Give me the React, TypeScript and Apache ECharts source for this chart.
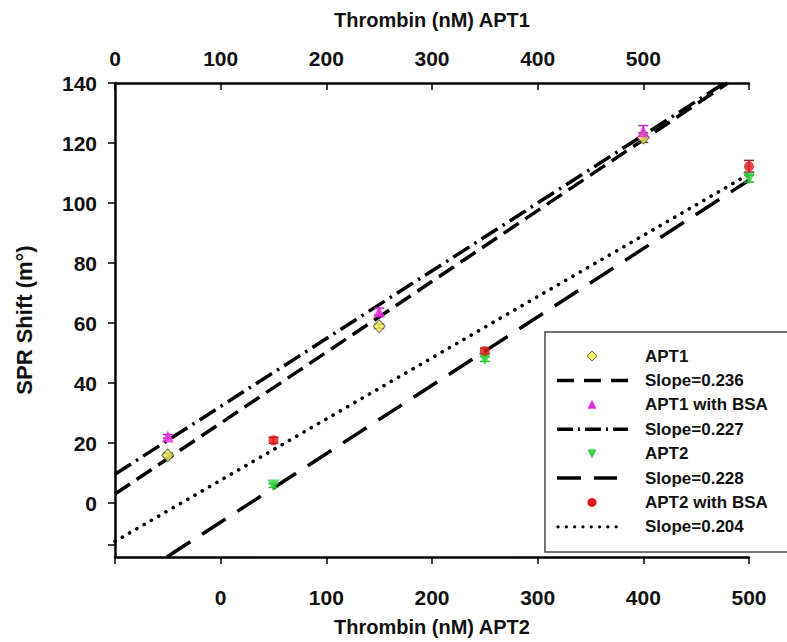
import React, { useEffect, useRef } from "react";
import * as echarts from "echarts";

// ---- data ----
// APT1 series use the top axis (Thrombin (nM) APT1), APT2 series use the bottom axis (APT2)
const apt1: number[][] = [[50, 15.9], [250, 58.9], [500, 121.8]];
const apt1Bsa: number[][] = [[50, 22.2], [250, 63.8], [500, 123.9]];
const apt2: number[][] = [[50, 5.8], [250, 47.9], [500, 108.1]];
const apt2Bsa: number[][] = [[50, 20.9], [250, 50.7], [500, 112.2]];

// error bars: [x, low, high]
const apt1Err: number[][] = [[50, 15.2, 16.6], [250, 58.2, 59.6], [500, 120.2, 123.4]];
const apt1BsaErr: number[][] = [[50, 21.6, 22.8], [250, 62.6, 65.0], [500, 122.0, 125.8]];
const apt2Err: number[][] = [[50, 5.2, 6.4], [250, 47.2, 48.8], [500, 107.0, 109.2]];
const apt2BsaErr: number[][] = [[50, 19.9, 21.9], [250, 49.8, 51.6], [500, 110.3, 114.2]];

// trend-line end points
const fit236: number[][] = [[0, 3.0], [580, 140]];
const fit227: number[][] = [[0, 9.6], [577, 140]];
const fit228: number[][] = [[-51, -18], [500, 107.6]];
const fit204: number[][] = [[-100, -12.8], [500, 109.6]];

const legendLabels: string[] = [
  "APT1",
  "Slope=0.236",
  "APT1 with BSA",
  "Slope=0.227",
  "APT2",
  "Slope=0.228",
  "APT2 with BSA",
  "Slope=0.204",
];

const yTicks: number[] = [0, 20, 40, 60, 80, 100, 120, 140];
const yExtraTick: number[] = [-14];

const FONT = "'Liberation Sans', Arial, Helvetica, sans-serif";

function errSeries(name: string, data: number[][], xAxisIndex: number, color: string) {
  return {
    name,
    type: "custom",
    xAxisIndex,
    yAxisIndex: 0,
    z: 3,
    data,
    renderItem: (params: any, api: any) => {
      const x = api.value(0);
      const lo = api.coord([x, api.value(1)]);
      const hi = api.coord([x, api.value(2)]);
      const w = 5;
      const st = { stroke: color, lineWidth: 1.5 };
      return {
        type: "group",
        children: [
          { type: "line", shape: { x1: lo[0], y1: lo[1], x2: hi[0], y2: hi[1] }, style: st },
          { type: "line", shape: { x1: lo[0] - w, y1: lo[1], x2: lo[0] + w, y2: lo[1] }, style: st },
          { type: "line", shape: { x1: hi[0] - w, y1: hi[1], x2: hi[0] + w, y2: hi[1] }, style: st },
        ],
      };
    },
  };
}

export default function App() {
  const ref = useRef<HTMLDivElement>(null);
  useEffect(() => {
    if (!ref.current) return;
    const chart = echarts.init(ref.current, null, { renderer: "svg" });

    const lineW = 3.5;
    const lx = 545, ly = 332;
    const rowY = (i: number) => 356 + i * 24.4;
    const symX = 592;
    const textX = 645;
    const legendGraphics: any[] = [
      {
        type: "rect",
        shape: { x: lx, y: ly, width: 260, height: 220 },
        style: { fill: "#fff", stroke: "#444", lineWidth: 1.5 },
        z: 10,
      },
      {
        type: "polygon",
        shape: { points: [[symX, rowY(0) - 5], [symX + 5, rowY(0)], [symX, rowY(0) + 5], [symX - 5, rowY(0)]] },
        style: { fill: "#f2ee5a", stroke: "#666", lineWidth: 1 },
        z: 11,
      },
      {
        type: "line",
        shape: { x1: 557, y1: rowY(1), x2: 628, y2: rowY(1) },
        style: { stroke: "#000", lineWidth: lineW, lineDash: [17, 10] },
        z: 11,
      },
      {
        type: "polygon",
        shape: { points: [[symX, rowY(2) - 5], [symX + 4.5, rowY(2) + 4], [symX - 4.5, rowY(2) + 4]] },
        style: { fill: "#e030d8" },
        z: 11,
      },
      {
        type: "line",
        shape: { x1: 557, y1: rowY(3), x2: 628, y2: rowY(3) },
        style: { stroke: "#000", lineWidth: lineW, lineDash: [16, 5, 2, 5] },
        z: 11,
      },
      {
        type: "polygon",
        shape: { points: [[symX, rowY(4) + 5], [symX + 4.5, rowY(4) - 4], [symX - 4.5, rowY(4) - 4]] },
        style: { fill: "#30d040" },
        z: 11,
      },
      {
        type: "line",
        shape: { x1: 557, y1: rowY(5), x2: 617, y2: rowY(5) },
        style: { stroke: "#000", lineWidth: lineW, lineDash: [24, 13] },
        z: 11,
      },
      {
        type: "circle",
        shape: { cx: symX, cy: rowY(6), r: 4.5 },
        style: { fill: "#e01818" },
        z: 11,
      },
      {
        type: "line",
        shape: { x1: 558, y1: rowY(7), x2: 624, y2: rowY(7) },
        style: { stroke: "#000", lineWidth: 3.2, lineDash: [0.1, 8.2], lineCap: "round" },
        z: 11,
      },
      ...legendLabels.map((t, i) => ({
        type: "text",
        x: textX,
        y: rowY(i),
        style: {
          text: t,
          fill: "#111",
          font: `bold 17px ${FONT}`,
          textVerticalAlign: "middle",
          textAlign: "left",
        },
        z: 11,
      })),
    ];

    const axisLineStyle = { color: "#000", width: 2.5 };
    const labelStyle = { color: "#111", fontSize: 21, fontWeight: "bold" as const, fontFamily: FONT };
    const nameStyle = { color: "#111", fontSize: 20, fontWeight: "bold" as const, fontFamily: FONT };

    chart.setOption({
      animation: false,
      backgroundColor: "#fff",
      grid: { left: 115, right: 38, top: 83, bottom: 77, containLabel: false },
      xAxis: [
        {
          type: "value",
          position: "bottom",
          min: -100,
          max: 500,
          interval: 100,
          name: "Thrombin (nM) APT2",
          nameLocation: "middle",
          nameGap: 60,
          nameTextStyle: nameStyle,
          axisLine: { show: true, onZero: false, lineStyle: axisLineStyle },
          axisTick: { show: true, inside: false, length: 7, lineStyle: { color: "#000", width: 1.5 } },
          axisLabel: {
            ...labelStyle,
            margin: 30,
            formatter: (v: number) => (v === -100 ? "" : String(v)),
          },
          splitLine: { show: false },
        },
        {
          type: "value",
          position: "top",
          min: 0,
          max: 600,
          interval: 100,
          name: "Thrombin (nM) APT1",
          nameLocation: "middle",
          nameGap: 53,
          nameTextStyle: nameStyle,
          axisLine: { show: true, onZero: false, lineStyle: axisLineStyle },
          axisTick: { show: true, inside: true, length: 7, lineStyle: { color: "#000", width: 1.5 } },
          axisLabel: {
            ...labelStyle,
            margin: 14,
            formatter: (v: number) => (v === 600 ? "" : String(v)),
          },
          splitLine: { show: false },
        },
      ],
      yAxis: [
        {
          type: "value",
          min: -18,
          max: 140,
          name: "SPR Shift (m°)",
          nameLocation: "middle",
          nameGap: 80,
          nameRotate: 90,
          nameTextStyle: { ...nameStyle, fontSize: 22 },
          axisLine: { show: true, onZero: false, lineStyle: axisLineStyle },
          axisTick: {
            show: true,
            inside: false,
            length: 7,
            lineStyle: { color: "#000", width: 1.5 },
            customValues: [...yExtraTick, ...yTicks],
          },
          axisLabel: { ...labelStyle, margin: 18, customValues: yTicks },
          splitLine: { show: false },
        },
      ],
      graphic: legendGraphics,
      series: [
        {
          name: "Slope=0.236",
          type: "line",
          xAxisIndex: 1,
          data: fit236,
          symbol: "none",
          lineStyle: { color: "#000", width: lineW, type: [18, 8] },
          z: 2,
        },
        {
          name: "Slope=0.227",
          type: "line",
          xAxisIndex: 1,
          data: fit227,
          symbol: "none",
          lineStyle: { color: "#000", width: lineW, type: [19, 6, 2.5, 6] },
          z: 2,
        },
        {
          name: "Slope=0.228",
          type: "line",
          xAxisIndex: 0,
          data: fit228,
          symbol: "none",
          lineStyle: { color: "#000", width: lineW, type: [28, 14] },
          z: 2,
        },
        {
          name: "Slope=0.204",
          type: "line",
          xAxisIndex: 0,
          data: fit204,
          symbol: "none",
          lineStyle: { color: "#000", width: 3.6, type: [0.1, 8.3], cap: "round" },
          z: 2,
        },
        errSeries("APT1 err", apt1Err, 1, "#5a4a20"),
        errSeries("APT1 BSA err", apt1BsaErr, 1, "#c020c0"),
        errSeries("APT2 err", apt2Err, 0, "#30b030"),
        errSeries("APT2 BSA err", apt2BsaErr, 0, "#a02020"),
        {
          name: "APT1",
          type: "scatter",
          xAxisIndex: 1,
          data: apt1,
          symbol: "diamond",
          symbolSize: [12, 13],
          itemStyle: { color: "#f2ee5a", borderColor: "#555", borderWidth: 1 },
          z: 4,
        },
        {
          name: "APT1 with BSA",
          type: "scatter",
          xAxisIndex: 1,
          data: apt1Bsa,
          symbol: "triangle",
          symbolSize: 12,
          itemStyle: { color: "#e030d8" },
          z: 5,
        },
        {
          name: "APT2",
          type: "scatter",
          xAxisIndex: 0,
          data: apt2,
          symbol: "triangle",
          symbolRotate: 180,
          symbolSize: 12,
          itemStyle: { color: "#30d040" },
          z: 4,
        },
        {
          name: "APT2 with BSA",
          type: "scatter",
          xAxisIndex: 0,
          data: apt2Bsa,
          symbol: "circle",
          symbolSize: 10,
          itemStyle: { color: "#e01818" },
          z: 5,
        },
      ],
    });
    return () => chart.dispose();
  }, []);

  return (
    <div
      ref={ref}
      style={{ position: "fixed", left: 0, top: 0, width: 787, height: 642, background: "#fff" }}
    />
  );
}
